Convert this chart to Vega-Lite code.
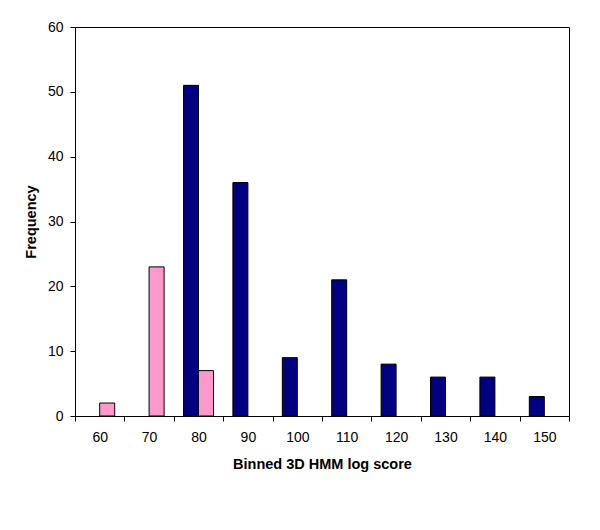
{
  "$schema": "https://vega.github.io/schema/vega-lite/v6.json",
  "autosize": "none",
  "width": 494,
  "height": 389,
  "padding": {"left": 75, "top": 27, "right": 31, "bottom": 114},
  "background": "white",
  "config": {
    "view": {"stroke": "black", "strokeWidth": 1},
    "font": "Liberation Sans",
    "axis": {"labelColor": "black", "titleColor": "black", "domainColor": "black", "tickColor": "black", "labelFontSize": 14, "titleFontSize": 14.5, "titleFontWeight": "bold", "grid": false, "tickSize": 5}
  },
  "data": {
    "values": [
      {"score": "60", "series": "B", "count": 2},
      {"score": "70", "series": "B", "count": 23},
      {"score": "80", "series": "A", "count": 51},
      {"score": "80", "series": "B", "count": 7},
      {"score": "90", "series": "A", "count": 36},
      {"score": "100", "series": "A", "count": 9},
      {"score": "110", "series": "A", "count": 21},
      {"score": "120", "series": "A", "count": 8},
      {"score": "130", "series": "A", "count": 6},
      {"score": "140", "series": "A", "count": 6},
      {"score": "150", "series": "A", "count": 3}
    ]
  },
  "mark": {"type": "bar", "stroke": "black", "strokeWidth": 1},
  "encoding": {
    "x": {
      "field": "score", "type": "ordinal",
      "sort": ["60","70","80","90","100","110","120","130","140","150"],
      "scale": {"domain": ["60","70","80","90","100","110","120","130","140","150"], "paddingInner": 0, "paddingOuter": 0},
      "axis": {"title": "Binned 3D HMM log score", "labelAngle": 0, "tickBand": "extent", "labelPadding": 9, "titlePadding": 13}
    },
    "xOffset": {
      "field": "series", "type": "nominal",
      "scale": {"domain": ["A", "B"], "paddingInner": 0, "paddingOuter": 0.647}
    },
    "y": {
      "field": "count", "type": "quantitative",
      "scale": {"domain": [0, 60], "nice": false},
      "axis": {"title": "Frequency", "values": [0,10,20,30,40,50,60], "labelPadding": 7, "titlePadding": 9}
    },
    "color": {
      "field": "series", "type": "nominal",
      "scale": {"domain": ["A", "B"], "range": ["#000080", "#FF99CC"]},
      "legend": null
    }
  }
}
